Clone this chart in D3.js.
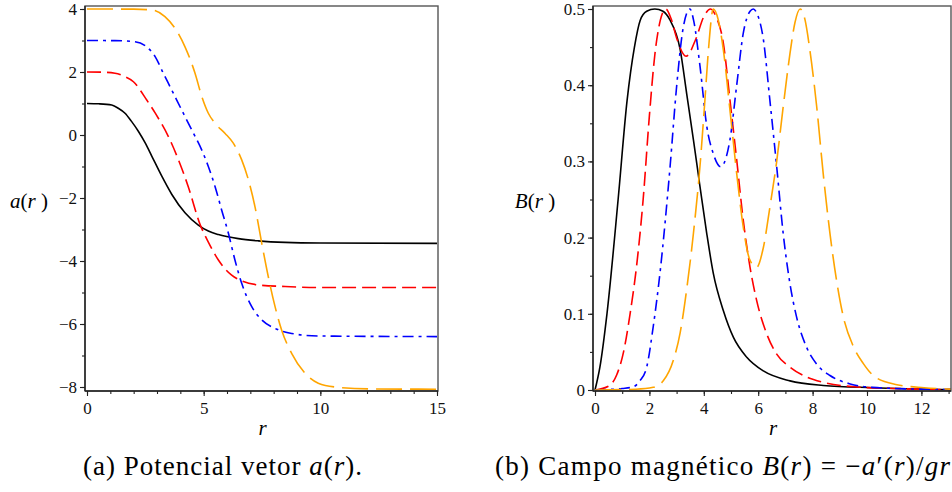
<!DOCTYPE html>
<html>
<head>
<meta charset="utf-8">
<script src="https://cdn.jsdelivr.net/npm/d3@7"></script>
<style>
  body { margin: 0; background: #fff; }
  svg { display: block; }
</style>
</head>
<body>
<svg id="chart" width="952" height="492"></svg>
<script>
// ---- Tick values ----
const rTicksA = [0, 5, 10, 15];
const aTicks = [-8, -6, -4, -2, 0, 2, 4];
const rTicksB = [0, 2, 4, 6, 8, 10, 12];
const bTicks = [0, 0.1, 0.2, 0.3, 0.4, 0.5];

// ---- Vector potential a(r), pairs [r, a] ----
const aN1 = [[0,1.0],[0.5,0.99],[1.06,0.95],[1.34,0.85],[1.63,0.69],[1.9,0.44],[2.2,0.12],[2.5,-0.26],[2.77,-0.66],[3.2,-1.3],[3.63,-1.88],[4.2,-2.47],[4.77,-2.86],[5.2,-3.05],[5.63,-3.16],[6.49,-3.29],[7.34,-3.36],[8.49,-3.41],[10,-3.43],[15,-3.44]];
const aN2 = [[0,2.0],[0.6,1.995],[1.2,1.96],[1.6,1.86],[1.99,1.69],[2.56,1.11],[2.92,0.70],[3.56,-0.16],[3.92,-0.79],[4.34,-1.64],[4.84,-2.83],[5.2,-3.40],[5.63,-3.97],[6.2,-4.45],[6.63,-4.63],[7.34,-4.76],[8.49,-4.81],[9.91,-4.84],[15,-4.84]];
const aN3 = [[0,3.0],[1.2,2.995],[2.06,2.96],[2.63,2.75],[2.92,2.49],[3.27,1.96],[3.63,1.43],[4.06,0.79],[4.49,0.16],[4.92,-0.48],[5.2,-1.0],[5.49,-1.64],[5.77,-2.38],[6.06,-3.12],[6.34,-3.97],[6.63,-4.71],[7.06,-5.45],[7.49,-5.87],[8.06,-6.14],[8.77,-6.30],[9.91,-6.38],[15,-6.40]];
const aN4 = [[0,4.0],[2.0,3.995],[2.77,3.97],[3.34,3.76],[3.77,3.39],[4.2,2.80],[4.63,1.96],[4.92,1.22],[5.2,0.69],[5.49,0.37],[5.92,0.05],[6.27,-0.26],[6.63,-0.79],[6.92,-1.43],[7.2,-2.28],[7.49,-3.44],[7.77,-4.50],[8.06,-5.45],[8.34,-6.19],[8.77,-6.93],[9.34,-7.56],[9.91,-7.88],[10.77,-8.01],[12.06,-8.06],[15,-8.07]];

// ---- Magnetic field B(r), pairs [r, B] ----
const bN1 = [[0,0],[0.18,0.03],[0.44,0.10],[0.85,0.25],[1.18,0.38],[1.45,0.45],[1.66,0.485],[1.9,0.497],[2.2,0.5],[2.5,0.497],[2.75,0.486],[3.13,0.447],[3.37,0.389],[3.62,0.328],[3.86,0.267],[4.11,0.205],[4.35,0.153],[4.72,0.104],[5.09,0.069],[5.58,0.043],[6.19,0.025],[7.17,0.012],[8.39,0.006],[10.23,0.003],[13.1,0.0005]];
const bN2 = [[0,0],[0.5,0.005],[0.8,0.02],[1.05,0.05],[1.29,0.10],[1.52,0.16],[1.77,0.25],[2.0,0.36],[2.2,0.44],[2.4,0.485],[2.6,0.5],[2.8,0.487],[3.0,0.462],[3.35,0.438],[3.7,0.46],[4.0,0.49],[4.25,0.5],[4.45,0.49],[4.72,0.455],[4.96,0.381],[5.21,0.302],[5.45,0.223],[5.7,0.161],[5.94,0.118],[6.31,0.074],[6.68,0.047],[7.17,0.030],[7.78,0.017],[8.39,0.010],[9.62,0.004],[11,0.002],[13.1,0.0005]];
const bN3 = [[0,0],[1.0,0.002],[1.4,0.004],[1.65,0.012],[1.9,0.03],[2.14,0.083],[2.4,0.157],[2.76,0.293],[3.0,0.398],[3.25,0.477],[3.49,0.5],[3.62,0.486],[3.86,0.425],[4.11,0.346],[4.35,0.31],[4.62,0.293],[4.96,0.328],[5.21,0.40],[5.45,0.468],[5.7,0.497],[5.82,0.5],[5.94,0.495],[6.19,0.46],[6.43,0.38],[6.68,0.293],[6.92,0.205],[7.17,0.139],[7.41,0.096],[7.78,0.056],[8.15,0.034],[8.64,0.019],[9.38,0.008],[10.2,0.0035],[12.1,0.001],[13.1,0.0005]];
const bN4 = [[0,0],[1.5,0.001],[2.14,0.0035],[2.51,0.012],[2.88,0.039],[3.13,0.075],[3.37,0.132],[3.62,0.206],[3.86,0.294],[4.04,0.38],[4.17,0.446],[4.35,0.5],[4.53,0.486],[4.72,0.446],[4.96,0.368],[5.21,0.284],[5.45,0.214],[5.7,0.170],[5.94,0.161],[6.19,0.187],[6.43,0.24],[6.68,0.30],[6.92,0.372],[7.17,0.442],[7.35,0.482],[7.54,0.5],[7.72,0.486],[7.9,0.446],[8.15,0.372],[8.39,0.284],[8.64,0.205],[8.88,0.144],[9.13,0.096],[9.5,0.057],[9.86,0.035],[10.3,0.017],[11.1,0.007],[12.1,0.003],[13.1,0.001]];

// ---- Line styles per winding number ----
const styles = [
  { color: "#000000", dash: null },
  { color: "#ff0000", dash: "14,6" },
  { color: "#0000ff", dash: "11,5,3,5" },
  { color: "#ffa500", dash: "26,8" }
];

const svg = d3.select("#chart");
const serif = '"Liberation Serif"';
const fmtA = d3.format("");
const fmtB = d => d === 0 ? "0" : d3.format(".1f")(d);

function drawPanel(p) {
  const g = svg.append("g");
  const x = d3.scaleLinear().domain(p.xDomain).range(p.xRange);
  const y = d3.scaleLinear().domain(p.yDomain).range(p.yRange);
  const f = p.frame;

  const clipId = "clip-" + p.id;
  svg.append("defs").append("clipPath").attr("id", clipId)
    .append("rect").attr("x", f.left).attr("y", f.top)
    .attr("width", f.right - f.left).attr("height", f.bottom - f.top);

  // one path per winding number
  const line = d3.line().x(d => x(d[0])).y(d => y(d[1])).curve(d3.curveMonotoneX);
  const lines = g.append("g").attr("clip-path", `url(#${clipId})`);
  p.series.forEach((s, i) => {
    lines.append("path")
      .attr("d", line(s))
      .attr("fill", "none")
      .attr("stroke", styles[i].color)
      .attr("stroke-width", 1.6)
      .attr("stroke-dasharray", styles[i].dash)
      .attr("stroke-linejoin", "round");
  });

  // boxed frame, darker on the axis sides
  g.append("rect")
    .attr("x", f.left).attr("y", f.top)
    .attr("width", f.right - f.left).attr("height", f.bottom - f.top)
    .attr("fill", "none").attr("stroke", "#555").attr("stroke-width", 1.4);
  g.append("line").attr("x1", f.left).attr("x2", f.left).attr("y1", f.top).attr("y2", f.bottom)
    .attr("stroke", "#222").attr("stroke-width", 1.4);
  g.append("line").attr("x1", f.left).attr("x2", f.right).attr("y1", f.bottom).attr("y2", f.bottom)
    .attr("stroke", "#222").attr("stroke-width", 1.4);

  const styleAxis = sel => {
    sel.select(".domain").remove();
    sel.attr("font-family", serif);
    sel.selectAll(".tick line").attr("stroke", "#222").attr("stroke-width", 1.1);
    sel.selectAll(".tick text").attr("fill", "#111")
      .attr("font-family", serif).attr("font-size", 17);
  };
  g.append("g").attr("transform", `translate(0,${f.bottom})`)
    .call(d3.axisBottom(x).tickValues(p.xMinor).tickSize(3).tickFormat(""))
    .call(styleAxis);
  g.append("g").attr("transform", `translate(0,${f.bottom})`)
    .call(d3.axisBottom(x).tickValues(p.xTicks).tickSize(5).tickPadding(6).tickFormat(d3.format("")))
    .call(styleAxis);
  g.append("g").attr("transform", `translate(${f.left},0)`)
    .call(d3.axisLeft(y).tickValues(p.yMinor).tickSize(3).tickFormat(""))
    .call(styleAxis);
  g.append("g").attr("transform", `translate(${f.left},0)`)
    .call(d3.axisLeft(y).tickValues(p.yTicks).tickSize(5).tickPadding(3).tickFormat(p.yFormat))
    .call(styleAxis);

  // axis titles
  g.append("text").attr("x", (f.left + f.right) / 2 + 1).attr("y", 435)
    .attr("text-anchor", "middle").attr("font-family", serif)
    .attr("font-size", 21).attr("font-style", "italic")
    .text("r");
  const yt = g.append("text").attr("x", p.yTitleX).attr("y", 208)
    .attr("text-anchor", "middle").attr("font-family", serif).attr("font-size", 21);
  yt.append("tspan").attr("font-style", "italic").text(p.yTitle);
  yt.append("tspan").text("(");
  yt.append("tspan").attr("font-style", "italic").text("r");
  yt.append("tspan").text(" )");
}

drawPanel({
  id: "a",
  frame: { left: 85, right: 438, top: 6, bottom: 391 },
  xDomain: [0, 15], xRange: [87, 437],
  yDomain: [-8, 4], yRange: [387, 9],
  xTicks: rTicksA, xMinor: d3.range(0, 16, 1),
  yTicks: aTicks, yMinor: d3.range(-8, 5, 1),
  yFormat: d => fmtA(d),
  yTitle: "a", yTitleX: 29,
  series: [aN1, aN2, aN3, aN4]
});

drawPanel({
  id: "b",
  frame: { left: 593, right: 951, top: 6, bottom: 391 },
  xDomain: [0, 13], xRange: [595, 948.6],
  yDomain: [0, 0.5], yRange: [390, 9],
  xTicks: rTicksB, xMinor: d3.range(0, 14, 1),
  yTicks: bTicks, yMinor: d3.range(0, 0.51, 0.05),
  yFormat: fmtB,
  yTitle: "B", yTitleX: 535,
  series: [bN1, bN2, bN3, bN4]
});

// ---- Sub-figure captions ----
const capA = svg.append("text").attr("x", 83).attr("y", 475)
  .attr("font-family", serif).attr("font-size", 27)
  .attr("textLength", 279).attr("lengthAdjust", "spacing");
capA.append("tspan").text("(a) Potencial vetor ");
capA.append("tspan").attr("font-style", "italic").text("a");
capA.append("tspan").text("(");
capA.append("tspan").attr("font-style", "italic").text("r");
capA.append("tspan").text(").");

const capB = svg.append("text").attr("x", 495).attr("y", 475)
  .attr("font-family", serif).attr("font-size", 27)
  .attr("textLength", 455).attr("lengthAdjust", "spacing");
capB.append("tspan").text("(b) Campo magnético ");
capB.append("tspan").attr("font-style", "italic").text("B");
capB.append("tspan").text("(");
capB.append("tspan").attr("font-style", "italic").text("r");
capB.append("tspan").text(") = −");
capB.append("tspan").attr("font-style", "italic").text("a");
capB.append("tspan").text("′(");
capB.append("tspan").attr("font-style", "italic").text("r");
capB.append("tspan").text(")/");
capB.append("tspan").attr("font-style", "italic").text("gr");
</script>
</body>
</html>
